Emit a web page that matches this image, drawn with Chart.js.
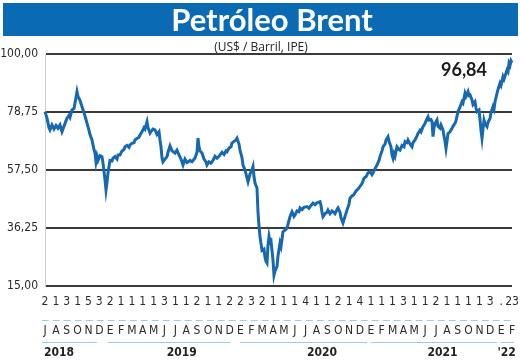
<!DOCTYPE html>
<html><head><meta charset="utf-8">
<script src="https://cdn.jsdelivr.net/npm/chart.js@4.4.1/dist/chart.umd.min.js"></script>
<style>html,body{margin:0;padding:0;background:#fff}#wrap{width:520px;height:362px;position:relative}</style>
</head><body><div id="wrap"><canvas id="c" width="520" height="362"></canvas></div>
<script>
const titleText = 'Petróleo Brent';
const subtitleText = '(US$ / Barril, IPE)';
const lastValueLabel = '96,84';
const yTicks = [15, 36.25, 57.5, 78.75, 100];
const monthLetters = ['J','A','S','O','N','D',
  'E','F','M','A','M','J','J','A','S','O','N','D',
  'E','F','M','A','M','J','J','A','S','O','N','D',
  'E','F','M','A','M','J','J','A','S','O','N','D',
  'E','F'];
const dayLabels = ['2','1','3','1','5','3',
  '2','1','1','1','1','3','1','1','2','1','1','2',
  '2','3','2','1','1','1','4','1','1','2','1','4',
  '1','1','1','3','1','1','2','1','1','1','1','3',
  '.','23'];
const years = ['2018','2019','2020','2021',"'22"];
// trading-session index (0 = 2 Jul 2018) and Brent price in US$
const sessions = [
  0,4,8,10,14,18,22,26,30,34,
  38,42,44,48,50,54,58,60,64,66,
  70,74,78,82,84,88,90,94,98,100,
  102,104,106,110,114,116,118,120,122,124,
  126,130,134,136,140,144,146,150,154,158,
  160,164,168,170,174,178,180,184,188,190,
  194,198,200,204,206,210,212,216,220,224,
  228,230,232,234,236,240,244,246,250,254,
  260,264,268,272,276,280,284,290,294,300,
  304,306,308,310,314,318,322,324,328,332,
  336,340,344,348,350,354,358,362,364,368,
  372,374,378,382,384,388,390,394,396,400,
  404,406,410,414,416,418,420,424,426,428,
  430,434,438,440,442,444,446,448,450,452,
  454,456,458,460,464,466,470,472,476,480,
  484,488,490,494,498,500,504,508,510,514,
  518,524,528,532,536,540,544,550,552,554,
  556,560,564,566,570,574,576,580,584,586,
  590,592,596,600,604,608,610,614,618,622,
  626,630,634,638,642,646,650,654,656,660,
  664,668,670,674,676,680,682,686,688,692,
  694,696,698,700,704,708,710,714,718,720,
  724,726,730,734,736,740,744,746,750,752,
  756,760,762,766,768,772,774,776,778,780,
  784,786,790,792,796,798,800,802,804,806,
  810,814,816,820,822,826,830,834,836,840,
  842,846,848,850,854,856,860,862,864,868,
  870,872,874,876,878,880,884,886,890,892,
  896,898,900,904,906,910,912,916,918,922,
  924,926,928,930,932,934];
const prices = [
  78.9,76.5,73,72.2,74,72.5,73.8,72.8,74,71.5,
  73.5,75.5,76.5,77.5,76.8,79.5,80,82,86.2,84.5,
  83,80.7,78.5,76,74.7,72,70.5,68.5,65,63.7,
  60.5,62.5,61,62.8,62.4,60,57,54,50.2,53,
  56.5,61,60.8,61.8,62.4,61.5,63,63,64.5,65,
  66,66.5,65.8,66.7,67.3,67.5,68.5,69,69.5,70.3,
  71.5,73,72.5,75.2,73,71,71.6,72.5,72.2,70.5,
  71.5,68.5,66,62,60.5,61.5,62.4,64,66.3,64.5,
  63.7,64.8,63,61.5,59.3,61.5,60.2,61,60.5,61.9,
  64,69.2,66,64.5,63.7,61.5,60.5,59.3,60.5,60,
  61,62.5,61.8,62.5,63,64,63.2,64.5,64.2,65.5,
  66,67.4,68,68.5,69.1,67,64.8,62,59.3,57.5,
  54.6,53.2,56,57.5,58.7,55,52.7,50.9,42,37,
  33.1,28,28.5,25.5,24,23.4,30,33.1,31,31.5,
  28,24.5,19,20.5,22.1,26,30.7,29.5,34.9,35.5,
  36.2,39,40.4,42.2,40.5,41,42.5,42.2,43.6,43,
  43.8,44.1,43.5,44.5,45.4,44.8,45.5,45.9,44.5,42,
  40.4,41.5,42,42.8,41.5,42.5,42.2,41.5,43,43.6,
  42,40,38.1,40.5,42.8,45,47.2,48,48.5,49.8,
  50.5,51.5,52.5,54.5,55,56.5,56.9,55.8,56.4,58,
  59.3,61,62.4,64.5,66,67,68.5,69.7,68,66,
  63,61.8,63.5,62.5,66,65,64.8,66.5,66,67.9,
  67.5,68.5,67,66,67.5,68.5,70,70.9,72,71.5,
  73.4,74.5,75.5,77,75.8,76,75.2,69.7,73,74.5,
  75.8,73.5,72.8,74,72.2,70,68,65.4,68,70.9,
  71.5,72.8,73.5,74.6,75.5,78.9,80.5,82.5,82,85.6,
  84.5,86.2,84.8,85,83.2,81.5,82.5,80.2,78.9,79.5,
  76,72,69.1,72.5,75.8,74.5,73.4,75,76.4,78.5,
  80.7,79.8,82.5,85.6,87,89.3,88.5,91.7,90.8,93,
  94.1,93.5,96.6,95.8,97.5,96.8];

const NARROW = '"Liberation Sans Narrow","DejaVu Sans Condensed","Roboto Condensed",sans-serif';
const BLUE = '#0b6ab4';
const LINE = '#1668b0';
const LIGHT = '#9ccbe4';

const yearAnchors = [
  {label: years[0], at: -0.1, align: 'left', from: -0.3, to: 4.8},
  {label: years[1], at: 12.6, align: 'center', from: 5.8, to: 17.05},
  {label: years[2], at: 25.5, align: 'center', from: 17.95, to: 29.65},
  {label: years[3], at: 36.6, align: 'center', from: 30.0, to: 41.6},
  {label: years[4], at: 42.5, align: 'center', from: 41.95, to: 43.2}
];

const decor = {
  id: 'decor',
  beforeDraw(chart) {
    const ctx = chart.ctx;
    ctx.save();
    ctx.fillStyle = '#fff';
    ctx.fillRect(0, 0, chart.width, chart.height);
    ctx.fillStyle = BLUE;
    ctx.fillRect(3, 3, 515, 33);
    ctx.fillStyle = '#fff';
    ctx.font = 'bold 31px Lato, "Open Sans", sans-serif';
    ctx.textAlign = 'center';
    ctx.textBaseline = 'alphabetic';
    ctx.fillText(titleText, 272, 30.5);
    ctx.fillStyle = '#222';
    ctx.font = '12px "Open Sans", sans-serif';
    ctx.fillText(subtitleText, 261, 51);
    ctx.restore();
  },
  afterDraw(chart) {
    const ctx = chart.ctx;
    const xm = chart.scales.xm;
    ctx.save();
    // dashed line above month letters
    ctx.strokeStyle = LIGHT;
    ctx.lineWidth = 1;
    ctx.setLineDash([7, 4]);
    ctx.beginPath();
    ctx.moveTo(xm.getPixelForValue(-0.3), 320.5);
    ctx.lineTo(xm.getPixelForValue(43.25), 320.5);
    ctx.stroke();
    ctx.setLineDash([]);
    // year underlines and labels
    ctx.fillStyle = '#222';
    ctx.font = 'bold 12px ' + NARROW;
    ctx.textBaseline = 'middle';
    yearAnchors.forEach(y => {
      ctx.beginPath();
      ctx.moveTo(xm.getPixelForValue(y.from), 342.5);
      ctx.lineTo(xm.getPixelForValue(y.to), 342.5);
      ctx.stroke();
      ctx.textAlign = y.align;
      ctx.fillText(y.label, xm.getPixelForValue(y.at), 353);
    });
    // last value label
    ctx.fillStyle = '#1a1a1a';
    ctx.font = 'bold 18px Lato, "Open Sans", sans-serif';
    ctx.textAlign = 'center';
    ctx.textBaseline = 'alphabetic';
    ctx.fillText(lastValueLabel, 464, 76);
    ctx.restore();
  }
};

const axisLabels = dayLabels.map((d, i) => [d, '', monthLetters[i]]);

new Chart(document.getElementById('c'), {
  type: 'line',
  data: {
    labels: axisLabels,
    datasets: [{
      data: sessions.map((s, i) => ({x: s, y: prices[i]})),
      xAxisID: 'x', yAxisID: 'y',
      borderColor: LINE, borderWidth: 3, pointRadius: 0, tension: 0,
      fill: false, clip: false
    }]
  },
  options: {
    responsive: false, animation: false, devicePixelRatio: 1,
    layout: {padding: {left: 0, right: 8, top: 54, bottom: 0}},
    plugins: {legend: {display: false}, tooltip: {enabled: false}, title: {display: false}},
    scales: {
      x: {type: 'linear', min: 0, max: 934, display: false},
      xm: {
        type: 'category', position: 'bottom', labels: axisLabels, offset: false,
        grid: {display: false, drawTicks: false}, border: {display: false},
        ticks: {autoSkip: false, maxRotation: 0, minRotation: 0, padding: 9, color: '#2a2a2a',
          font: {family: NARROW, size: 12, lineHeight: 1.2}},
        afterFit(s) { s.height = 76; s.paddingLeft = 0; s.paddingRight = 0; }
      },
      y: {
        min: 15, max: 100,
        afterBuildTicks(s) { s.ticks = yTicks.map(v => ({value: v})); },
        ticks: {padding: 7, color: '#2a2a2a', font: {family: NARROW, size: 12},
          callback: v => v.toFixed(2).replace('.', ',')},
        grid: {color: '#3a3a3a', lineWidth: 2, drawTicks: false},
        border: {color: '#cfcfcf', width: 1},
        afterFit(s) { s.width = 45; }
      }
    }
  },
  plugins: [decor]
});
</script></body></html>
